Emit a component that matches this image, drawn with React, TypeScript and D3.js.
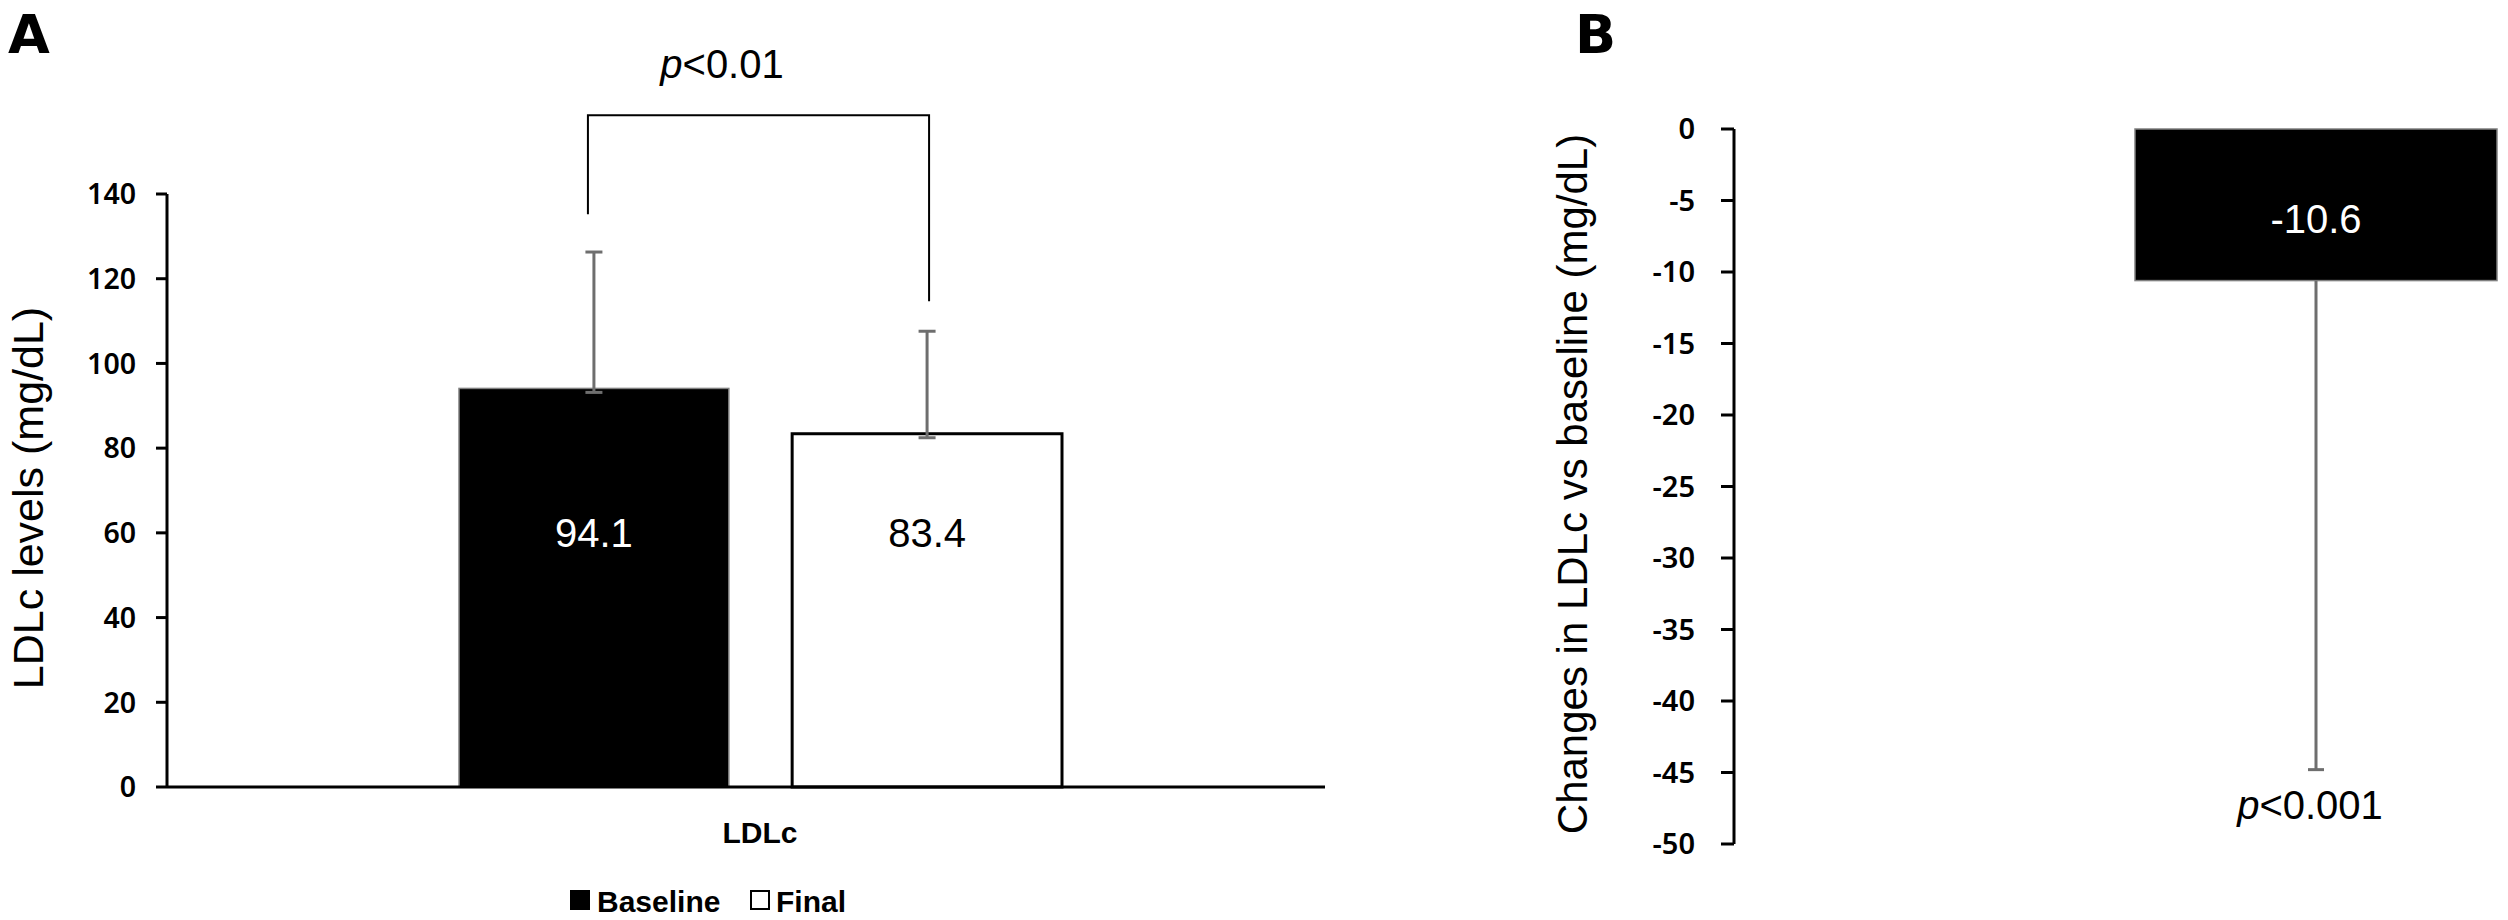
import React from "react";
import * as d3 from "d3";

// ---------- data ----------
const categoryA = "LDLc";
const seriesA = ["Baseline", "Final"];
const valuesA = [94.1, 83.4];
const errorsA = [32.2, 24.2];
const ticksA = [0, 20, 40, 60, 80, 100, 120, 140];
const bracketA = [135.2, 158.6, 114.7]; // left end, top, right end (data units)
const pTextA = "<0.01";

const categoryB = ["LDLc change"];
const valuesB = [-10.6];
const errorsB = [34.2];
const ticksB = [0, -5, -10, -15, -20, -25, -30, -35, -40, -45, -50];
const pTextB = "<0.001";

const W = 2508;
const H = 920;
const ARIAL = "'Liberation Sans', Arial, sans-serif";
const TICKF = "'Noto Sans', 'DejaVu Sans', sans-serif";
const ERR = "#6e6e6e";

export default function App() {
  // panel A scales
  const yA = d3.scaleLinear().domain([0, 140]).range([787, 194]);
  const xA = d3.scaleBand<string>().domain(seriesA).range([459, 1062]).paddingInner(0.19);
  const axisAx = 167;
  const axisAend = 1325;

  // panel B scales
  const yB = d3.scaleLinear().domain([-50, 0]).range([844, 129]);
  const xB = d3.scaleBand<string>().domain(categoryB).range([2135, 2497]).paddingInner(0).paddingOuter(0);
  const axisBx = 1734;

  const cx = (s: string) => (xA(s) as number) + xA.bandwidth() / 2;
  const bx = xB(categoryB[0]) as number;
  const bcx = bx + xB.bandwidth() / 2;

  return (
    <svg width={W} height={H} style={{ position: "absolute", left: 0, top: 0, background: "#fff" }}>
      <rect x={0} y={0} width={W} height={H} fill="#fff" />
      {/* Panel letters */}
      <text x={8} y={53} fontFamily="'DejaVu Sans', sans-serif" fontWeight="bold" fontSize={54}>A</text>
      <text x={1575} y={53} fontFamily="'DejaVu Sans', sans-serif" fontWeight="bold" fontSize={54}>B</text>

      {/* ===== Panel A ===== */}
      {seriesA.map((s, i) => (
        <rect
          key={s}
          x={xA(s)}
          y={yA(valuesA[i])}
          width={xA.bandwidth()}
          height={yA(0) - yA(valuesA[i])}
          fill={i === 0 ? "#000" : "#fff"}
          stroke={i === 0 ? "#808080" : "#000"}
          strokeWidth={i === 0 ? 1.5 : 3}
        />
      ))}
      {seriesA.map((s, i) => {
        const x = cx(s);
        const y1 = yA(valuesA[i] + errorsA[i]);
        const y0 = yA(valuesA[i]) + 4;
        return (
          <g key={"e" + s} stroke={ERR} strokeWidth={3}>
            <line x1={x} x2={x} y1={y0} y2={y1} />
            <line x1={x - 8.5} x2={x + 8.5} y1={y1} y2={y1} />
            <line x1={x - 8.5} x2={x + 8.5} y1={y0} y2={y0} />
          </g>
        );
      })}
      {seriesA.map((s, i) => (
        <text
          key={"l" + s}
          x={cx(s)}
          y={547}
          textAnchor="middle"
          fontFamily={ARIAL}
          fontSize={40}
          fill={i === 0 ? "#fff" : "#000"}
        >
          {valuesA[i].toFixed(1)}
        </text>
      ))}
      <path
        d={`M${cx(seriesA[0]) - 6},${yA(bracketA[0])} V${yA(bracketA[1])} H${cx(seriesA[1]) + 2} V${yA(bracketA[2])}`}
        fill="none"
        stroke="#000"
        strokeWidth={2}
      />
      <text x={722} y={78} textAnchor="middle" fontFamily={ARIAL} fontSize={40}>
        <tspan fontStyle="italic">p</tspan>
        {pTextA}
      </text>

      <line x1={axisAx} x2={axisAx} y1={yA(140)} y2={yA(0)} stroke="#000" strokeWidth={3} />
      <line x1={axisAx} x2={axisAend} y1={yA(0)} y2={yA(0)} stroke="#000" strokeWidth={3} />
      {ticksA.map((t) => (
        <g key={"ta" + t}>
          <line x1={axisAx - 11} x2={axisAx} y1={yA(t)} y2={yA(t)} stroke="#000" strokeWidth={3} />
          <text x={136} y={yA(t)} dy="0.36em" textAnchor="end" fontFamily={TICKF} fontWeight={600} fontSize={28.5}>
            {t}
          </text>
        </g>
      ))}
      <text transform={`translate(43,498) rotate(-90)`} textAnchor="middle" fontFamily={ARIAL} fontSize={43}>
        LDLc levels (mg/dL)
      </text>
      <text x={760} y={843} textAnchor="middle" fontFamily={ARIAL} fontWeight="bold" fontSize={30}>
        {categoryA}
      </text>
      <rect x={570} y={890} width={20} height={20} fill="#000" />
      <text x={597} y={912} fontFamily={ARIAL} fontWeight="bold" fontSize={30}>
        {seriesA[0]}
      </text>
      <rect x={751} y={891} width={18} height={18} fill="#fff" stroke="#000" strokeWidth={2} />
      <text x={776} y={912} fontFamily={ARIAL} fontWeight="bold" fontSize={30}>
        {seriesA[1]}
      </text>

      {/* ===== Panel B ===== */}
      {valuesB.map((v, i) => (
        <rect
          key={"b" + i}
          x={bx}
          y={yB(0)}
          width={xB.bandwidth()}
          height={yB(v) - yB(0)}
          fill="#000"
          stroke="#808080"
          strokeWidth={1.5}
        />
      ))}
      {valuesB.map((v, i) => {
        const y0 = yB(v);
        const y1 = yB(v - errorsB[i]);
        return (
          <g key={"eb" + i} stroke={ERR} strokeWidth={3}>
            <line x1={bcx} x2={bcx} y1={y0} y2={y1} />
            <line x1={bcx - 8} x2={bcx + 8} y1={y1} y2={y1} />
          </g>
        );
      })}
      {valuesB.map((v, i) => (
        <text key={"lb" + i} x={bcx} y={233} textAnchor="middle" fontFamily={ARIAL} fontSize={40} fill="#fff">
          {v.toFixed(1)}
        </text>
      ))}
      <text x={bcx - 6} y={819} textAnchor="middle" fontFamily={ARIAL} fontSize={40}>
        <tspan fontStyle="italic">p</tspan>
        {pTextB}
      </text>

      <line x1={axisBx} x2={axisBx} y1={yB(0)} y2={yB(-50)} stroke="#000" strokeWidth={3} />
      {ticksB.map((t) => (
        <g key={"tb" + t}>
          <line x1={axisBx - 13} x2={axisBx} y1={yB(t)} y2={yB(t)} stroke="#000" strokeWidth={3} />
          <text x={1695} y={yB(t)} dy="0.36em" textAnchor="end" fontFamily={TICKF} fontWeight={600} fontSize={29}>
            {t}
          </text>
        </g>
      ))}
      <text transform={`translate(1587,484) rotate(-90)`} textAnchor="middle" fontFamily={ARIAL} fontSize={42}>
        Changes in LDLc vs baseline (mg/dL)
      </text>
    </svg>
  );
}
